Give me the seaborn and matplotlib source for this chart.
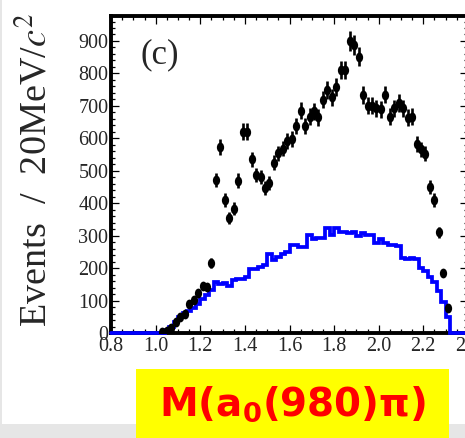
import numpy as np
import matplotlib
matplotlib.use("Agg")
import matplotlib.pyplot as plt
from matplotlib.markers import MarkerStyle
from matplotlib.transforms import Affine2D
from matplotlib.ticker import MultipleLocator
from matplotlib.patches import Rectangle
import seaborn as sns

# ---------------- data ----------------
data_mass = [1.03, 1.05, 1.07, 1.09, 1.11, 1.13, 1.15, 1.17, 1.19, 1.21,
             1.23, 1.25, 1.27, 1.29, 1.31, 1.33, 1.35, 1.37, 1.39, 1.41,
             1.43, 1.45, 1.47, 1.49, 1.51, 1.53, 1.55, 1.57, 1.59, 1.61,
             1.63, 1.65, 1.67, 1.69, 1.71, 1.73, 1.75, 1.77, 1.79, 1.81,
             1.83, 1.85, 1.87, 1.89, 1.91, 1.93, 1.95, 1.97, 1.99, 2.01,
             2.03, 2.05, 2.07, 2.09, 2.11, 2.13, 2.15, 2.17, 2.19, 2.21,
             2.23, 2.25, 2.27, 2.29, 2.31]
data_events = [2, 6, 15, 34, 50, 59, 88, 103, 124, 145,
               143, 216, 472, 574, 410, 354, 383, 470, 621, 621,
               535, 486, 480, 447, 462, 525, 554, 568, 592, 597,
               638, 685, 638, 667, 683, 665, 719, 749, 726, 758,
               811, 811, 900, 888, 852, 734, 701, 700, 693, 690,
               735, 667, 692, 709, 692, 664, 667, 582, 566, 553,
               451, 410, 310, 185, 78]

mc_edges = [round(0.80 + 0.02 * i, 2) for i in range(81)]
mc_events = [0, 0, 0, 0, 0, 0, 0, 0, 0, 0, 0, 0,
             8, 18, 33, 50, 61, 69, 76, 89, 104, 117,
             133, 158, 151, 155, 145, 163, 166, 166, 172, 196,
             196, 204, 209, 245, 225, 235, 243, 250, 271, 271,
             264, 264, 301, 290, 293, 293, 323, 302, 323, 312,
             312, 307, 312, 299, 309, 302, 302, 277, 289, 277,
             270, 270, 267, 230, 228, 230, 227, 199, 192, 174,
             158, 130, 97, 50, 0, 0, 0, 0]

x_ticks = [0.8, 1.0, 1.2, 1.4, 1.6, 1.8, 2.0, 2.2, 2.4]
x_ticklabels = ["0.8", "1.0", "1.2", "1.4", "1.6", "1.8", "2.0", "2.2", "2.4"]
y_ticks = [0, 100, 200, 300, 400, 500, 600, 700, 800, 900]

# ---------------- style ----------------
sns.set_style("ticks")
plt.rcParams["font.family"] = ["Liberation Serif", "DejaVu Serif"]
plt.rcParams["mathtext.fontset"] = "stix"

W, H = 465, 438
fig = plt.figure(figsize=(W / 100, H / 100), dpi=100)
fig.patch.set_facecolor("white")

# light grey band at the bottom and left edge (page background)
fig.patches.append(Rectangle((0, 0), 1, 14 / H, transform=fig.transFigure,
                             facecolor="#e6e6e6", edgecolor="none", zorder=0))
fig.patches.append(Rectangle((0, 0), 1.5 / W, 1, transform=fig.transFigure,
                             facecolor="#e6e6e6", edgecolor="none", zorder=0))

left, right = 111.2, 467.8
bottom, top = 333.0, 16.0
ax = fig.add_axes([left / W, (H - bottom) / H, (right - left) / W, (bottom - top) / H])
ax.set_facecolor("white")

# MC histogram (blue step line through bin edges)
step_x = mc_edges
step_y = mc_events + [mc_events[-1]]
sns.lineplot(x=step_x, y=step_y, drawstyle="steps-post", color="#0000ff",
             linewidth=2.7, estimator=None, ax=ax, zorder=3)
for ln in ax.lines:
    ln.set_clip_on(False)
    ln.set_solid_joinstyle("miter")

# data points with sqrt(N) error bars
data_err = np.sqrt(np.array(data_events, dtype=float))
ax.errorbar(data_mass, data_events, yerr=data_err, fmt="none",
            ecolor="black", elinewidth=1.9, capsize=0, zorder=4)
ell = MarkerStyle("o", transform=Affine2D().scale(0.74, 1.0))
sns.scatterplot(x=data_mass, y=data_events, marker=ell, s=50, color="black",
                edgecolor="black", linewidth=0, ax=ax, zorder=5)

ax.set_xlim(0.8, 2.4)
ax.set_ylim(0, 977)
ax.set_xticks(x_ticks)
ax.set_xticklabels(x_ticklabels)
ax.set_yticks(y_ticks)
ax.xaxis.set_minor_locator(MultipleLocator(0.05))
ax.yaxis.set_minor_locator(MultipleLocator(20))
ax.tick_params(which="both", direction="in", top=True, right=True,
               color="black", width=0.9)
ax.tick_params(which="major", length=6.0)
ax.tick_params(which="minor", length=3.0)
ax.tick_params(axis="x", which="major", labelsize=14.5, pad=3)
ax.tick_params(axis="y", which="major", labelsize=14.5, pad=2)
for sp in ax.spines.values():
    sp.set_linewidth(2.8)
    sp.set_color("black")
    sp.set_visible(True)

ax.set_xlabel("")
ax.set_ylabel("")
fig.text(36 / W, (H - 170) / H, r"Events  /  20MeV/$c^2$", rotation=90,
         ha="center", va="center", fontsize=27.5)

ax.text(0.93, 857, "(c)", fontsize=25, ha="left", va="center")

# yellow label box
fig.patches.append(Rectangle((136 / W, 0), (449 - 136) / W, (H - 369) / H,
                             transform=fig.transFigure, facecolor="#ffff00",
                             edgecolor="none", zorder=1))
fig.text(292 / W, (H - 404) / H, "M(a$_\\mathbf{0}$(980)π)", color="#ff0000",
         fontsize=28, fontweight="bold", family=["DejaVu Sans"],
         math_fontfamily="dejavusans", ha="center", va="center", zorder=2)

fig.savefig("out.png", dpi=100)
